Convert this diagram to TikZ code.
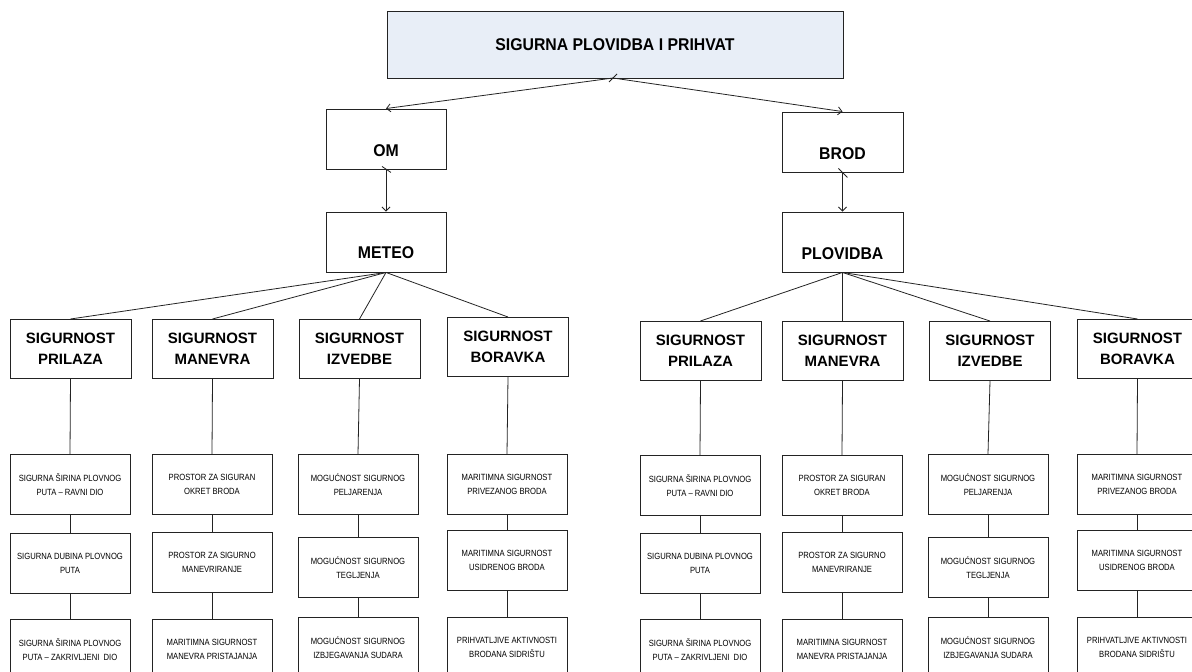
\documentclass[tikz,border=0pt]{standalone}
\usepackage{fontspec}
\setmainfont{Liberation Sans}
\newfontfamily\topfont[FakeStretch=0.93]{Liberation Sans}
\newfontfamily\lowfont[FakeStretch=0.85]{Liberation Sans}
\usetikzlibrary{arrows.meta}
\definecolor{topfill}{RGB}{232,238,247}
\definecolor{edge}{RGB}{35,35,35}
\newcommand\lowcol[9]{%
  \node[lowbox] (#1a) at (#2,#3) {#6};
  \node[lowbox] (#1b) at (#2,#4) {#7};
  \node[lowbox] (#1c) at (#2,#5) {#8};
  \draw[link] (#9.south) -- (#1a.north);
  \draw[link] (#1a.south) -- (#1b.north);
  \draw[link] (#1b.south) -- (#1c.north);
}
\begin{document}
\begin{tikzpicture}[x=1pt,y=-1pt,
  box/.style={draw=edge,line width=0.9pt,inner sep=0pt,align=center,text=black},
  topbox/.style={box,fill=topfill,minimum width=456pt,minimum height=67pt,font={\topfont\bfseries\fontsize{17}{20}\selectfont}},
  midbox/.style={box,minimum width=120pt,minimum height=60pt},
  midtxt/.style={inner sep=0pt,font={\topfont\bfseries\fontsize{17}{20}\selectfont}},
  catbox/.style={box,anchor=north,minimum width=121pt,minimum height=59pt,font={\bfseries\fontsize{15}{21}\selectfont}},
  lowbox/.style={box,anchor=north,minimum width=120pt,minimum height=60pt,font={\lowfont\fontsize{9}{13.5}\selectfont}},
  link/.style={draw=edge,line width=0.8pt},
  arr/.style={link,-{Straight Barb[length=4pt,width=8pt]}},
]
\useasboundingbox (0,0) rectangle (1192,672);

% top
\node[topbox] (top) at (615,44.5) {SIGURNA PLOVIDBA I PRIHVAT};
\coordinate (tsrc) at (613,78);

% OM / METEO
\node[midbox] (om) at (386,139) {};
\node[midtxt] (omt) at (386,151) {OM};
\node[midbox] (meteo) at (386,242) {};
\node[midtxt] (meteot) at (386,253) {METEO};

% BROD / PLOVIDBA
\node[midbox,minimum width=121pt] (brod) at (842.5,142) {};
\node[midtxt] (brodt) at (842.5,154) {BROD};
\node[midbox,minimum width=121pt] (plov) at (842.5,242) {};
\node[midtxt] (plovt) at (842.5,253.5) {PLOVIDBA};

% arrows
\draw[arr] (tsrc) -- (om.north);
\draw[arr] (tsrc) -- (brod.north);
\draw[link] ([shift={(-4,4)}]tsrc) -- ([shift={(4,-4)}]tsrc);
\draw[arr] (om.south) -- (meteo.north);
\draw[link] ([shift={(-4,-3)}]om.south) -- ([shift={(5,3)}]om.south);
\draw[arr] (brod.south) -- (plov.north);
\draw[link] ([shift={(-4,-4)}]brod.south) -- ([shift={(5,5)}]brod.south);

% level 3 left
\node[catbox] (k1) at (70.5,319) {SIGURNOST\\PRILAZA};
\node[catbox] (k2) at (212.5,319) {SIGURNOST\\MANEVRA};
\node[catbox] (k3) at (359.5,319) {SIGURNOST\\IZVEDBE};
\node[catbox] (k4) at (508,317) {SIGURNOST\\BORAVKA};
% level 3 right
\node[catbox] (k5) at (700.5,321) {SIGURNOST\\PRILAZA};
\node[catbox] (k6) at (842.5,321) {SIGURNOST\\MANEVRA};
\node[catbox] (k7) at (990,321) {SIGURNOST\\IZVEDBE};
\node[catbox] (k8) at (1137.5,319) {SIGURNOST\\BORAVKA};

\foreach \k in {k1,k2,k3,k4} \draw[link] (meteo.south) -- (\k.north);
\foreach \k in {k5,k6,k7,k8} \draw[link] (plov.south) -- (\k.north);

% lower boxes
\lowcol{ca}{70}{454}{533}{619}{SIGURNA ŠIRINA PLOVNOG\\PUTA – RAVNI DIO}{SIGURNA DUBINA PLOVNOG\\PUTA}{SIGURNA ŠIRINA PLOVNOG\\PUTA – ZAKRIVLJENI\ \ DIO}{k1}
\lowcol{cb}{212}{454}{532}{619}{PROSTOR ZA SIGURAN\\OKRET BRODA}{PROSTOR ZA SIGURNO\\MANEVRIRANJE}{MARITIMNA SIGURNOST\\MANEVRA PRISTAJANJA}{k2}
\lowcol{cc}{358}{454}{537}{617}{MOGUĆNOST SIGURNOG\\PELJARENJA}{MOGUĆNOST SIGURNOG\\TEGLJENJA}{MOGUĆNOST SIGURNOG\\IZBJEGAVANJA SUDARA}{k3}
\lowcol{cd}{507}{454}{530}{617}{MARITIMNA SIGURNOST\\PRIVEZANOG BRODA}{MARITIMNA SIGURNOST\\USIDRENOG BRODA}{PRIHVATLJIVE AKTIVNOSTI\\BRODANA SIDRIŠTU}{k4}
\lowcol{ce}{700}{455}{533}{619}{SIGURNA ŠIRINA PLOVNOG\\PUTA – RAVNI DIO}{SIGURNA DUBINA PLOVNOG\\PUTA}{SIGURNA ŠIRINA PLOVNOG\\PUTA – ZAKRIVLJENI\ \ DIO}{k5}
\lowcol{cf}{842}{455}{532}{619}{PROSTOR ZA SIGURAN\\OKRET BRODA}{PROSTOR ZA SIGURNO\\MANEVRIRANJE}{MARITIMNA SIGURNOST\\MANEVRA PRISTAJANJA}{k6}
\lowcol{cg}{988}{454}{537}{617}{MOGUĆNOST SIGURNOG\\PELJARENJA}{MOGUĆNOST SIGURNOG\\TEGLJENJA}{MOGUĆNOST SIGURNOG\\IZBJEGAVANJA SUDARA}{k7}
\lowcol{ch}{1137}{454}{530}{617}{MARITIMNA SIGURNOST\\PRIVEZANOG BRODA}{MARITIMNA SIGURNOST\\USIDRENOG BRODA}{PRIHVATLJIVE AKTIVNOSTI\\BRODANA SIDRIŠTU}{k8}
\end{tikzpicture}
\end{document}
